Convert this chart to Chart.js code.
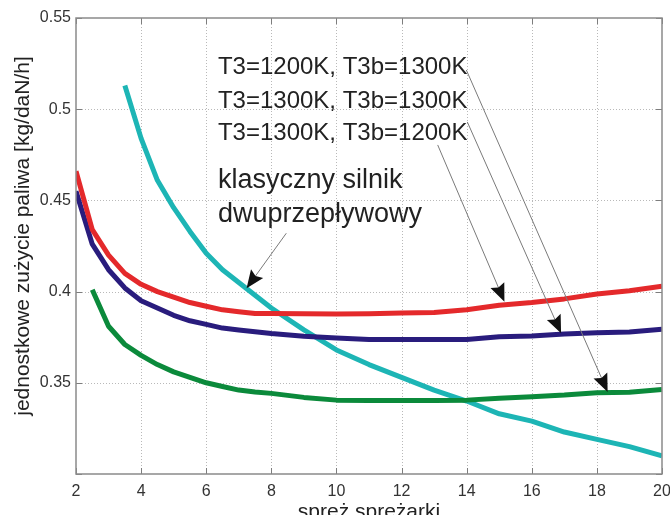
<!DOCTYPE html>
<html>
<head>
<meta charset="utf-8">
<script src="https://cdn.jsdelivr.net/npm/chart.js@4"></script>
<style>
  html, body { margin: 0; padding: 0; background: #fff; }
  #wrap { width: 670px; height: 515px; }
</style>
</head>
<body>
<div id="wrap"><canvas id="sfcChart" width="670" height="515"></canvas></div>
<script>
// spręż sprężarki (x) and fuel consumption values
const spreze = [2, 2.5, 3, 3.5, 4, 4.5, 5, 5.5, 6, 6.5, 7, 7.5, 8, 9, 10, 11, 12, 13, 14, 15, 16, 17, 18, 19, 20];
const sfc1200_1300 = [0.466, 0.434, 0.420, 0.410, 0.404, 0.400, 0.397, 0.394, 0.392, 0.390, 0.389, 0.388, 0.388, 0.3878, 0.3877, 0.3878, 0.3882, 0.3885, 0.390, 0.3925, 0.394, 0.396, 0.3987, 0.4005, 0.403];
const sfc1300_1300 = [0.455, 0.426, 0.412, 0.402, 0.395, 0.391, 0.387, 0.384, 0.382, 0.380, 0.379, 0.378, 0.377, 0.3755, 0.3745, 0.3738, 0.3738, 0.3738, 0.3738, 0.3752, 0.3757, 0.3768, 0.3775, 0.3778, 0.3793];
const sfc1300_1200 = [null, 0.401, 0.381, 0.371, 0.365, 0.360, 0.356, 0.353, 0.350, 0.348, 0.346, 0.345, 0.3442, 0.342, 0.3405, 0.3403, 0.3403, 0.3403, 0.3405, 0.3415, 0.3424, 0.3433, 0.3446, 0.3448, 0.3464];
const sfcKlasyczny = [null, null, null, 0.513, 0.484, 0.461, 0.446, 0.433, 0.421, 0.412, 0.405, 0.398, 0.391, 0.379, 0.368, 0.360, 0.353, 0.346, 0.340, 0.333, 0.329, 0.323, 0.319, 0.315, 0.310];

const xTicks = [2, 4, 6, 8, 10, 12, 14, 16, 18, 20];
const yTicks = [0.3, 0.35, 0.4, 0.45, 0.5, 0.55];

// labels: text, anchor (data coords), arrow start -> arrow tip (data coords)
const labelTexts = ["T3=1200K, T3b=1300K", "T3=1300K, T3b=1300K", "T3=1300K, T3b=1200K"];
const labelPos = [[6.36, 0.5193], [6.36, 0.5005], [6.36, 0.4831]];
const klasycznyText = ["klasyczny silnik", "dwuprzepływowy"];
const klasycznyPos = [[6.36, 0.4568], [6.36, 0.4384]];
const arrowFrom = [[13.99, 0.5215], [14.02, 0.493], [13.11, 0.4804], [8.46, 0.432]];
const arrowTo = [[18.33, 0.345], [16.9, 0.3771], [15.16, 0.3945], [7.24, 0.4018]];

const yTitle = 'jednostkowe zużycie paliwa [kg/daN/h]';
const FONT = "'Liberation Sans', Arial, sans-serif";

function pts(ys) {
  return spreze.map((x, i) => ({ x, y: ys[i] }));
}

const frame = {
  id: 'frame',
  beforeDatasetsDraw(chart) {
    const { ctx, chartArea: a, scales: { x, y } } = chart;
    ctx.save();
    // dotted grid
    ctx.fillStyle = '#b9b9b9';
    xTicks.slice(1, -1).forEach(v => {
      const px = Math.round(x.getPixelForValue(v));
      for (let py = Math.ceil(a.top); py < a.bottom; py += 3) ctx.fillRect(px, py, 1, 1);
    });
    yTicks.slice(1, -1).forEach(v => {
      const py = Math.round(y.getPixelForValue(v));
      for (let px = Math.ceil(a.left); px < a.right; px += 3) ctx.fillRect(px, py, 1, 1);
    });
    // inner tick marks
    ctx.strokeStyle = '#7d7d7d';
    ctx.lineWidth = 1;
    xTicks.forEach(v => {
      const px = Math.round(x.getPixelForValue(v)) + 0.5;
      ctx.beginPath();
      ctx.moveTo(px, a.bottom); ctx.lineTo(px, a.bottom - 6);
      ctx.moveTo(px, a.top); ctx.lineTo(px, a.top + 6);
      ctx.stroke();
    });
    yTicks.forEach(v => {
      const py = Math.round(y.getPixelForValue(v)) + 0.5;
      ctx.beginPath();
      ctx.moveTo(a.left, py); ctx.lineTo(a.left + 6, py);
      ctx.moveTo(a.right, py); ctx.lineTo(a.right - 6, py);
      ctx.stroke();
    });
    ctx.restore();
  },
  afterDatasetsDraw(chart) {
    const { ctx, chartArea: a, scales: { x, y } } = chart;
    ctx.save();
    ctx.strokeStyle = '#8a8a8a';
    ctx.lineWidth = 1.5;
    ctx.strokeRect(Math.round(a.left), Math.round(a.top), Math.round(a.right - a.left), Math.round(a.bottom - a.top));

    // y axis title
    ctx.save();
    ctx.translate(23, (a.top + a.bottom) / 2 - 10);
    ctx.rotate(-Math.PI / 2);
    ctx.fillStyle = '#222';
    ctx.font = '21px ' + FONT;
    ctx.textAlign = 'center';
    ctx.textBaseline = 'middle';
    ctx.fillText(yTitle, 0, 0);
    ctx.restore();

    // text labels
    ctx.fillStyle = '#222';
    ctx.textBaseline = 'alphabetic';
    ctx.textAlign = 'left';
    ctx.font = '24px ' + FONT;
    labelTexts.forEach((t, i) => {
      ctx.fillText(t, x.getPixelForValue(labelPos[i][0]), y.getPixelForValue(labelPos[i][1]));
    });
    ctx.font = '27px ' + FONT;
    klasycznyText.forEach((t, i) => {
      ctx.fillText(t, x.getPixelForValue(klasycznyPos[i][0]), y.getPixelForValue(klasycznyPos[i][1]));
    });

    // arrows
    arrowFrom.forEach((f, i) => {
      const x0 = x.getPixelForValue(f[0]), y0 = y.getPixelForValue(f[1]);
      const x1 = x.getPixelForValue(arrowTo[i][0]), y1 = y.getPixelForValue(arrowTo[i][1]);
      const ang = Math.atan2(y1 - y0, x1 - x0);
      const c = Math.cos(ang), s = Math.sin(ang);
      const len = 18, half = 7.5;
      ctx.strokeStyle = '#7a7a7a';
      ctx.lineWidth = 1;
      ctx.beginPath();
      ctx.moveTo(x0, y0);
      ctx.lineTo(x1 - c * len * 0.8, y1 - s * len * 0.8);
      ctx.stroke();
      ctx.fillStyle = '#111';
      ctx.beginPath();
      ctx.moveTo(x1, y1);
      ctx.lineTo(x1 - c * len + s * half, y1 - s * len - c * half);
      ctx.lineTo(x1 - c * len * 0.85, y1 - s * len * 0.85);
      ctx.lineTo(x1 - c * len - s * half, y1 - s * len + c * half);
      ctx.closePath();
      ctx.fill();
    });
    ctx.restore();
  }
};

new Chart(document.getElementById('sfcChart'), {
  type: 'line',
  data: {
    datasets: [
      { label: 'T3=1200K, T3b=1300K', data: pts(sfc1200_1300), borderColor: '#e4292b' },
      { label: 'T3=1300K, T3b=1300K', data: pts(sfc1300_1300), borderColor: '#291c7d' },
      { label: 'T3=1300K, T3b=1200K', data: pts(sfc1300_1200), borderColor: '#0b8a3b' },
      { label: 'klasyczny silnik dwuprzepływowy', data: pts(sfcKlasyczny), borderColor: '#1db5b5' }
    ]
  },
  options: {
    responsive: false,
    animation: false,
    devicePixelRatio: 1,
    layout: { padding: { top: 18, right: 8, left: 0, bottom: 0 } },
    elements: {
      line: { borderWidth: 5, tension: 0, borderJoinStyle: 'round', fill: false },
      point: { radius: 0 }
    },
    plugins: { legend: { display: false }, tooltip: { enabled: false } },
    scales: {
      x: {
        type: 'linear', min: 2, max: 20,
        afterBuildTicks: s => { s.ticks = xTicks.map(v => ({ value: v })); },
        afterFit: s => { s.height = 41; s.paddingLeft = 0; s.paddingRight = 0; },
        ticks: { autoSkip: false, maxRotation: 0, padding: 8, color: '#333', font: { family: FONT, size: 16 } },
        grid: { display: false, drawTicks: false },
        border: { display: false },
        title: { display: true, text: 'spreż spreżarki', color: '#222', font: { family: FONT, size: 21 }, padding: { top: 0, bottom: -10 } }
      },
      y: {
        type: 'linear', min: 0.3, max: 0.55,
        afterBuildTicks: s => { s.ticks = yTicks.map(v => ({ value: v })); },
        afterFit: s => { s.width = 76; },
        ticks: { autoSkip: false, padding: 5, color: '#333', font: { family: FONT, size: 16 },
          callback: v => (v === 0.3 ? '' : String(v)) },
        grid: { display: false, drawTicks: false },
        border: { display: false }
      }
    }
  },
  plugins: [frame]
});
</script>
</body>
</html>
